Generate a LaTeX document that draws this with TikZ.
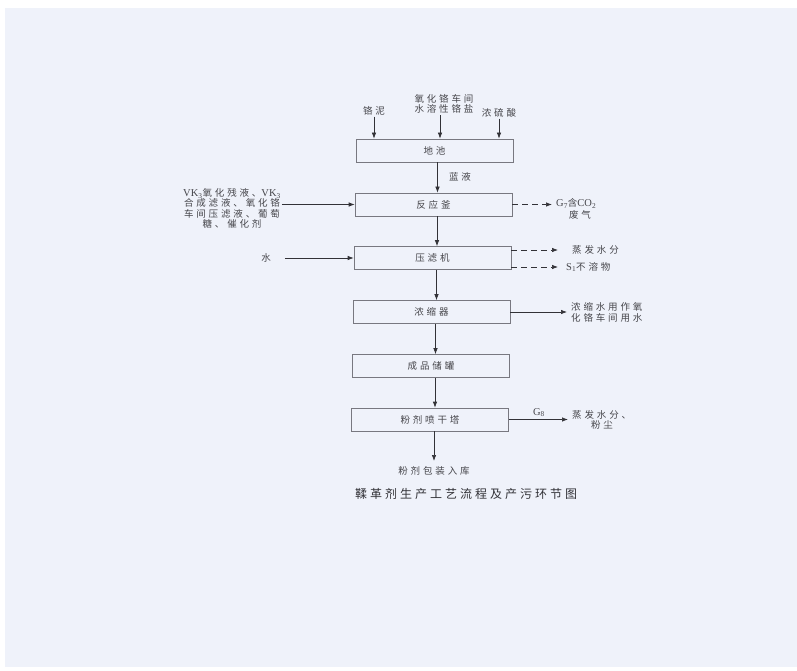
\documentclass[tikz,border=0pt]{standalone}
\usepackage{fontspec}
\setmainfont{Noto Sans CJK SC}
\newfontfamily\cjk[LetterSpace=30]{Noto Sans CJK SC}
\newfontfamily\cjktitle[LetterSpace=25]{Noto Sans CJK SC}
\newfontfamily\latf{Liberation Serif}
\newcommand\lat{\latf\fontsize{10.5}{10}\selectfont}
\usetikzlibrary{arrows.meta}
\definecolor{bgc}{RGB}{239,242,250}
\definecolor{txt}{RGB}{70,70,75}
\definecolor{linec}{RGB}{50,50,55}
\definecolor{boxc}{RGB}{120,120,128}
\begin{document}
\begin{tikzpicture}[x=1pt,y=-1pt,
  box/.style={draw=boxc, line width=0.7pt, minimum width=157pt, minimum height=23pt, inner sep=0pt, text=txt, font=\cjk\fontsize{9.5}{10}\selectfont},
  lbl/.style={inner sep=0pt, text=txt, align=center, font=\cjk\fontsize{9.5}{10}\selectfont},
  ttl/.style={inner sep=0pt, text=linec, font=\cjktitle\fontsize{12}{13}\selectfont},
  arr/.style={-{Latex[length=6pt,width=4.5pt]}, line width=0.7pt, draw=linec},
  darr/.style={arr, dash pattern=on 6pt off 4pt}]
\useasboundingbox (0,0) rectangle (797,671);
\fill[white] (0,0) rectangle (797,671);
\fill[bgc] (5,8) rectangle (797,667);

% main boxes
\node[box] (dc)  at (434.5,150.5) {地池};
\node[box] (fyf) at (433.5,204.5) {反应釜};
\node[box] (ylj) at (432.5,258)   {压滤机};
\node[box] (nsq) at (431.5,312)   {浓缩器};
\node[box] (cp)  at (431,366)     {成品储罐};
\node[box] (pj)  at (430,419.5)   {粉剂喷干塔};
\node[lbl] (out) at (434,471)     {粉剂包装入库};
\node[ttl] (title) at (466,494)   {鞣革剂生产工艺流程及产污环节图};

% main vertical flow
\draw[arr] ([xshift=3pt]dc.south)  -- ([xshift=3pt]dc.south |- fyf.north);
\draw[arr] ([xshift=3.5pt]fyf.south) -- ([xshift=3.5pt]fyf.south |- ylj.north);
\draw[arr] ([xshift=4pt]ylj.south) -- ([xshift=4pt]ylj.south |- nsq.north);
\draw[arr] ([xshift=4pt]nsq.south) -- ([xshift=4pt]nsq.south |- cp.north);
\draw[arr] ([xshift=4pt]cp.south)  -- ([xshift=4pt]cp.south |- pj.north);
\coordinate (e5) at (434,461);
\draw[arr] (pj.south -| e5) -- (e5);

\node[lbl] (ly) at (460,177) {蓝液};

% top inputs
\node[lbl] (gn)  at (374,111) {铬泥};
\node[lbl] (yh)  at (444,103.5) {氧化铬车间\\水溶性铬盐};
\node[lbl] (nls) at (499,113) {浓硫酸};
\draw[arr] ([yshift=-1pt]gn.south) -- (gn.south |- dc.north);
\draw[arr] ([xshift=-4pt,yshift=-2pt]yh.south) -- ([xshift=-4pt]yh.south |- dc.north);
\draw[arr] ([yshift=-1pt]nls.south) -- (nls.south |- dc.north);

% left inputs
\node[lbl, font=\cjk\fontsize{9.5}{10.5}\selectfont] (vk) at (232,208.5) {{\lat VK\textsubscript{3}}氧化残液、{\lat VK\textsubscript{3}}\\合成滤液、氧化铬\\车间压滤液、葡萄\\糖、催化剂};
\draw[arr] ([xshift=1pt]vk.east |- fyf.west) -- (fyf.west);
\node[lbl] (sh) at (266,258) {水};
\draw[arr] ([xshift=14pt]sh.east) -- (ylj.west);

% right outputs
\coordinate (e7) at (552,204.5);
\draw[darr] (fyf.east) -- (e7);
\node[lbl, anchor=west] (g7) at (556,203.5) {{\lat G\textsubscript{7}}含{\lat CO\textsubscript{2}}};
\node[lbl] (fq) at (580,214.5) {废气};

\coordinate (e1) at (558,250);
\coordinate (e2) at (558,267);
\draw[darr] (ylj.east |- e1) -- (e1);
\draw[darr] (ylj.east |- e2) -- (e2);
\node[lbl, anchor=west] (zf1) at (572,250) {蒸发水分};
\node[lbl, anchor=west] (s1) at (566,267) {{\lat S\textsubscript{1}}不溶物};

\coordinate (e3) at (567,312);
\draw[arr] (nsq.east) -- (e3);
\node[lbl, anchor=west] (ns1) at (571,307) {浓缩水用作氧};
\node[lbl, anchor=west] (ns2) at (571,317.5) {化铬车间用水};

\coordinate (e4) at (568,419.5);
\draw[arr] (pj.east) -- (e4);
\node[lbl] (g8) at (539,412.5) {{\lat G\textsubscript{8}}};
\node[lbl, anchor=west] (zf2) at (572,415) {蒸发水分、};
\node[lbl] (fc) at (602,425) {粉尘};
\end{tikzpicture}
\end{document}
